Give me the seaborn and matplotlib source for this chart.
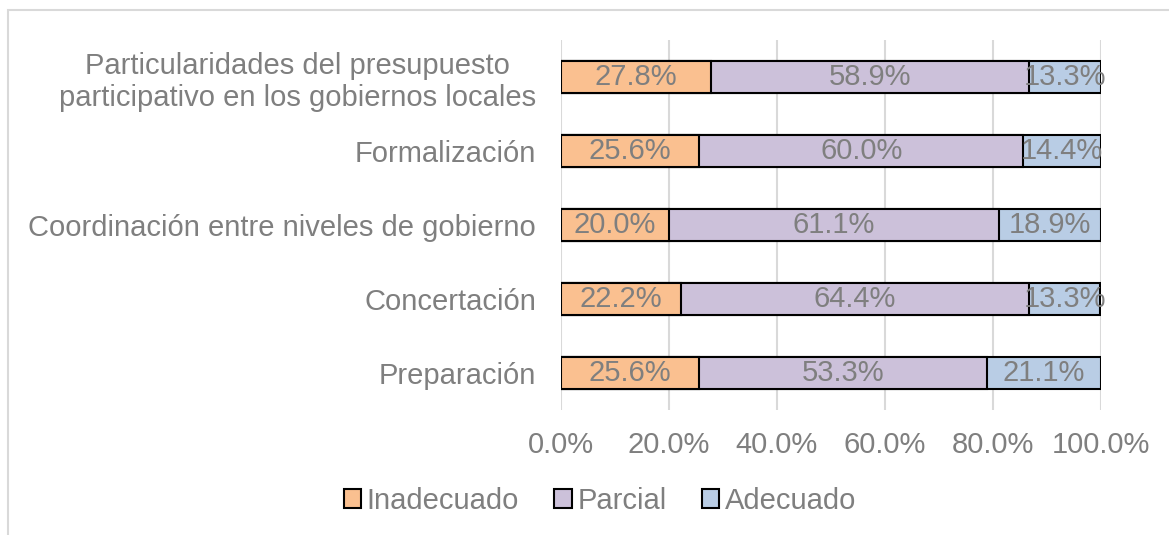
import numpy as np
import pandas as pd
import matplotlib
matplotlib.use("Agg")
import matplotlib.pyplot as plt
import seaborn as sns
from matplotlib.patches import Patch, Rectangle

categories = [
    "Particularidades del presupuesto\nparticipativo en los gobiernos locales",
    "Formalización",
    "Coordinación entre niveles de gobierno",
    "Concertación",
    "Preparación",
]
inadecuado = [27.8, 25.6, 20.0, 22.2, 25.6]
parcial = [58.9, 60.0, 61.1, 64.4, 53.3]
adecuado = [13.3, 14.4, 18.9, 13.3, 21.1]
series_names = ["Inadecuado", "Parcial", "Adecuado"]
x_ticks = [0, 20, 40, 60, 80, 100]

COLORS = ["#FAC090", "#CCC1DA", "#B9CDE5"]
TEXT = "#7F7F7F"
GRID = "#D9D9D9"
FS = 21

sns.set_style("white")
plt.rcParams["font.family"] = ["Liberation Sans", "DejaVu Sans"]

df = pd.DataFrame({"cat": categories, "Inadecuado": inadecuado,
                   "Parcial": parcial, "Adecuado": adecuado})
df["c1"] = df["Inadecuado"]
df["c2"] = df["c1"] + df["Parcial"]
df["c3"] = df["c2"] + df["Adecuado"]

fig = plt.figure(figsize=(11.69, 5.35), dpi=100)
ax = fig.add_axes([561 / 1169, 1 - 410 / 535, 540 / 1169, 370 / 535])

# stacked bars: draw cumulative totals, largest first
for col, color in zip(["c3", "c2", "c1"], COLORS[::-1]):
    sns.barplot(data=df, x=col, y="cat", orient="h", color=color,
                edgecolor="black", linewidth=1.5, width=0.43,
                saturation=1, ax=ax, zorder=3)

# segment labels
for i, row in df.iterrows():
    lefts = [0, row["c1"], row["c2"]]
    for left, name in zip(lefts, series_names):
        val = row[name]
        ax.text(left + val / 2, i, f"{val:.1f}%", ha="center", va="center",
                color=TEXT, fontsize=FS, zorder=5)

ax.set_xlim(0, 100)
ax.set_xticks(x_ticks)
ax.set_xticklabels([f"{t:.1f}%" for t in x_ticks])
ax.set_xlabel("")
ax.set_ylabel("")
ax.grid(axis="x", color=GRID, linewidth=1.5, zorder=0)
ax.set_axisbelow(True)
for s in ax.spines.values():
    s.set_visible(False)
ax.tick_params(axis="x", length=0, pad=15, labelsize=FS, labelcolor=TEXT)
ax.tick_params(axis="y", length=0, pad=18, labelsize=FS, labelcolor=TEXT)
for t in ax.get_yticklabels():
    t.set_multialignment("center")

handles = [Patch(facecolor=c, edgecolor="black", linewidth=1.5, label=n)
           for c, n in zip(COLORS, series_names)]
fig.legend(handles=handles, loc="center", bbox_to_anchor=(600 / 1169, 1 - 501 / 535),
           ncol=3, frameon=False, fontsize=FS, labelcolor=TEXT,
           handlelength=0.6, handleheight=0.6, handletextpad=0.2, columnspacing=1.2)

# chart area border
fig.add_artist(Rectangle((8 / 1169, -0.5), 2, 0.5 + 1 - 10 / 535,
                         transform=fig.transFigure, fill=False,
                         edgecolor=GRID, linewidth=1.5))

fig.savefig("out.png", dpi=100)
